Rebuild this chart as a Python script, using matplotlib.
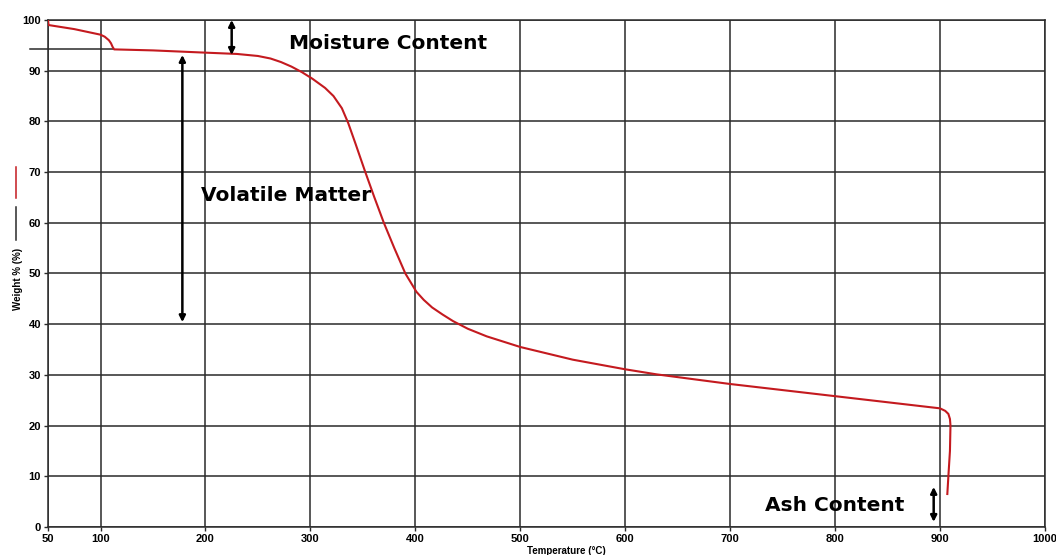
import matplotlib
matplotlib.use("Agg")
import matplotlib.pyplot as plt
from matplotlib.lines import Line2D

plt.rcParams['font.family'] = ['Liberation Sans', 'DejaVu Sans']

# TGA curve
temperature = [50, 50.5, 75, 100, 104, 108, 110, 111.5, 113, 150, 195, 230, 250, 262, 272,
               282, 292, 302, 314, 322, 330, 336, 343, 352, 361, 370, 380, 390.5, 401,
               408, 416, 426, 436, 450, 468, 500, 550, 600, 630, 700, 750, 800, 850,
               900, 905, 908, 909.5, 910, 909.5, 908, 907]
weight = [100, 99, 98.2, 97.1, 96.7, 96.0, 95.4, 94.7, 94.2, 94.0, 93.6, 93.3, 92.9, 92.4, 91.7,
          90.8, 89.7, 88.4, 86.6, 85.0, 82.6, 79.7, 75.6, 70.2, 65.0, 60.0, 55.0, 50.0, 46.4,
          44.8, 43.3, 41.9, 40.6, 39.1, 37.6, 35.5, 33.0, 31.1, 30.1, 28.2, 27.0, 25.8, 24.6,
          23.4, 22.9, 22.3, 21.3, 20.0, 15.0, 10.0, 6.5]

x_ticks = [50, 100, 200, 300, 400, 500, 600, 700, 800, 900, 1000]
y_ticks = [0, 10, 20, 30, 40, 50, 60, 70, 80, 90, 100]

# annotation anchors (data units)
moisture_arrow = (225, 100, 93.1)
volatile_arrow = (178, 93.1, 40.4)
ash_arrow = (894, 7.9, 1.0)
moisture_level = 94.2

fig = plt.figure(figsize=(10.56, 5.55), dpi=100)
ax = fig.add_axes([0.0455, 0.0505, 0.944, 0.9135])

ax.set_xlim(50, 1000)
ax.set_ylim(0, 100)
ax.set_xticks(x_ticks)
ax.set_yticks(y_ticks)
ax.grid(True, color='#2a2a2a', linewidth=1.1)
ax.set_axisbelow(True)
for s in ax.spines.values():
    s.set_color('#2a2a2a')
    s.set_linewidth(1.1)
ax.tick_params(axis='both', length=3, width=1, color='#2a2a2a', pad=2,
               labelsize=8)
for lbl in ax.get_xticklabels() + ax.get_yticklabels():
    lbl.set_fontweight('bold')

ax.plot(temperature, weight, color='#c41a1f', linewidth=1.5, zorder=3,
        solid_joinstyle='round')

# short reference line at the moisture plateau
ax.plot([33, 112], [moisture_level, moisture_level], color='#2a2a2a', linewidth=1.1,
        clip_on=False, zorder=2)

arrow_kw = dict(arrowstyle='<|-|>', color='black', lw=1.8, mutation_scale=9,
                shrinkA=0, shrinkB=0)
x, y0, y1 = moisture_arrow
ax.annotate('', xy=(x, y0), xytext=(x, y1), arrowprops=arrow_kw)
x, y0, y1 = volatile_arrow
ax.annotate('', xy=(x, y0), xytext=(x, y1), arrowprops=arrow_kw)
x, y0, y1 = ash_arrow
ax.annotate('', xy=(x, y0), xytext=(x, y1), arrowprops=arrow_kw)

label_kw = dict(fontsize=14.5, fontweight='bold', family='DejaVu Sans',
                ha='left', va='center', zorder=4)
ax.text(280, 95.3, 'Moisture Content', **label_kw)
ax.text(196, 65.3, 'Volatile Matter', **label_kw)
ax.text(733, 4.3, 'Ash Content', **label_kw)

ax.set_xlabel('Temperature (°C)', fontsize=7, fontweight='bold', labelpad=0)
ax.xaxis.set_label_coords(0.52, -0.038)
ax.set_ylabel('Weight % (%)', fontsize=7, fontweight='bold', labelpad=0)
ax.yaxis.set_label_coords(-0.025, 0.49)

# legend-like marks beside the y label
fig.add_artist(Line2D([0.0152, 0.0152], [1 - 240 / 555, 1 - 207 / 555],
                      color='#2a2a2a', linewidth=1.1))
fig.add_artist(Line2D([0.0152, 0.0152], [1 - 198 / 555, 1 - 167 / 555],
                      color='#c41a1f', linewidth=1.1))

fig.savefig('out.png', dpi=100)
